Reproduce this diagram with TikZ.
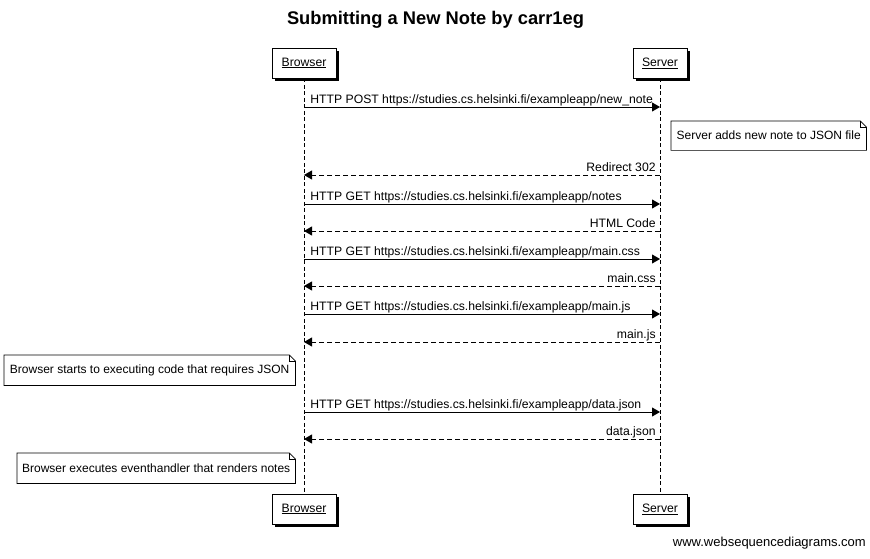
\documentclass[tikz,border=0pt]{standalone}
\usepackage{fontspec}
\setmainfont{Liberation Sans}
\usetikzlibrary{positioning,shadows,arrows.meta,calc}

\tikzset{
  actor/.style={draw, fill=white, line width=0.8pt, minimum height=30, inner sep=0pt,
    font=\fontsize{12.2}{14}\selectfont,
    drop shadow={shadow xshift=3pt, shadow yshift=-3pt, opacity=1, fill=black}},
  lifeline/.style={line width=0.7pt, dash pattern=on 4pt off 2.5pt},
  req/.style={line width=0.8pt, -{Triangle[length=8pt,width=9pt]}},
  resp/.style={line width=0.8pt, dash pattern=on 5pt off 3pt, -{Triangle[length=8pt,width=9pt]}},
  reqlabel/.style={anchor=base west, inner sep=0pt, xshift=6pt, yshift=3.5pt, font=\fontsize{12.2}{14}\selectfont},
  resplabel/.style={anchor=base east, inner sep=0pt, xshift=-4pt, yshift=3.5pt, font=\fontsize{12.2}{14}\selectfont},
  note/.style={anchor=north west, inner sep=0pt, font=\fontsize{12}{14}\selectfont},
}

\begin{document}
\begin{tikzpicture}[x=1pt, y=-1pt]
  \useasboundingbox[fill=white] (0,0) rectangle (870,559);
  \node[font=\bfseries\fontsize{18.3}{20}\selectfont] (title) at (435.5,20) {Submitting a New Note by carr1eg};

  % participants
  \node[actor, minimum width=64] (brTop) at (304,63) {\underline{Browser}};
  \node[actor, minimum width=54] (svTop) at (660,63) {\underline{Server}};
  \node[actor, minimum width=64] (brBot) at (304,509) {\underline{Browser}};
  \node[actor, minimum width=54] (svBot) at (660,509) {\underline{Server}};
  \draw[lifeline] (brTop.south) -- (brBot.north);
  \draw[lifeline] (svTop.south) -- (svBot.north);

  % messages
  \coordinate (b1) at (brTop.south |- 0,107);  \coordinate (s1) at (svTop.south |- 0,107);
  \draw[req] (b1) -- (s1) node[reqlabel, at start] {HTTP POST https://studies.cs.helsinki.fi/exampleapp/new\_note};

  \node[note, minimum width=195, minimum height=29] (n1) at (671,121) {Server adds new note to JSON file};
  \draw[line width=0.7pt] (n1.north west) -- ([xshift=-6pt]n1.north east) -- ([yshift=-6pt]n1.north east)
    -- (n1.south east) -- (n1.south west) -- cycle;
  \draw[line width=0.5pt] ([xshift=-6pt]n1.north east) -- ([xshift=-6pt,yshift=-6pt]n1.north east) -- ([yshift=-6pt]n1.north east);

  \coordinate (b2) at (brTop.south |- 0,175);  \coordinate (s2) at (svTop.south |- 0,175);
  \draw[resp] (s2) -- (b2) node[resplabel, at start] {Redirect 302};

  \coordinate (b3) at (brTop.south |- 0,204);  \coordinate (s3) at (svTop.south |- 0,204);
  \draw[req] (b3) -- (s3) node[reqlabel, at start] {HTTP GET https://studies.cs.helsinki.fi/exampleapp/notes};

  \coordinate (b4) at (brTop.south |- 0,231);  \coordinate (s4) at (svTop.south |- 0,231);
  \draw[resp] (s4) -- (b4) node[resplabel, at start] {HTML Code};

  \coordinate (b5) at (brTop.south |- 0,259);  \coordinate (s5) at (svTop.south |- 0,259);
  \draw[req] (b5) -- (s5) node[reqlabel, at start] {HTTP GET https://studies.cs.helsinki.fi/exampleapp/main.css};

  \coordinate (b6) at (brTop.south |- 0,286);  \coordinate (s6) at (svTop.south |- 0,286);
  \draw[resp] (s6) -- (b6) node[resplabel, at start] {main.css};

  \coordinate (b7) at (brTop.south |- 0,314);  \coordinate (s7) at (svTop.south |- 0,314);
  \draw[req] (b7) -- (s7) node[reqlabel, at start] {HTTP GET https://studies.cs.helsinki.fi/exampleapp/main.js};

  \coordinate (b8) at (brTop.south |- 0,342);  \coordinate (s8) at (svTop.south |- 0,342);
  \draw[resp] (s8) -- (b8) node[resplabel, at start] {main.js};

  \node[note, minimum width=291, minimum height=30] (n2) at (4,355) {Browser starts to executing code that requires JSON};
  \draw[line width=0.7pt] (n2.north west) -- ([xshift=-6pt]n2.north east) -- ([yshift=-6pt]n2.north east)
    -- (n2.south east) -- (n2.south west) -- cycle;
  \draw[line width=0.5pt] ([xshift=-6pt]n2.north east) -- ([xshift=-6pt,yshift=-6pt]n2.north east) -- ([yshift=-6pt]n2.north east);

  \coordinate (b9) at (brTop.south |- 0,412);  \coordinate (s9) at (svTop.south |- 0,412);
  \draw[req] (b9) -- (s9) node[reqlabel, at start] {HTTP GET https://studies.cs.helsinki.fi/exampleapp/data.json};

  \coordinate (b10) at (brTop.south |- 0,439);  \coordinate (s10) at (svTop.south |- 0,439);
  \draw[resp] (s10) -- (b10) node[resplabel, at start] {data.json};

  \node[note, minimum width=278, minimum height=30] (n3) at (17,453) {Browser executes eventhandler that renders notes};
  \draw[line width=0.7pt] (n3.north west) -- ([xshift=-6pt]n3.north east) -- ([yshift=-6pt]n3.north east)
    -- (n3.south east) -- (n3.south west) -- cycle;
  \draw[line width=0.5pt] ([xshift=-6pt]n3.north east) -- ([xshift=-6pt,yshift=-6pt]n3.north east) -- ([yshift=-6pt]n3.north east);

  \node[anchor=base east, inner sep=0pt, font=\fontsize{13}{15}\selectfont] (wsd) at (866,546) {www.websequencediagrams.com};
\end{tikzpicture}
\end{document}
